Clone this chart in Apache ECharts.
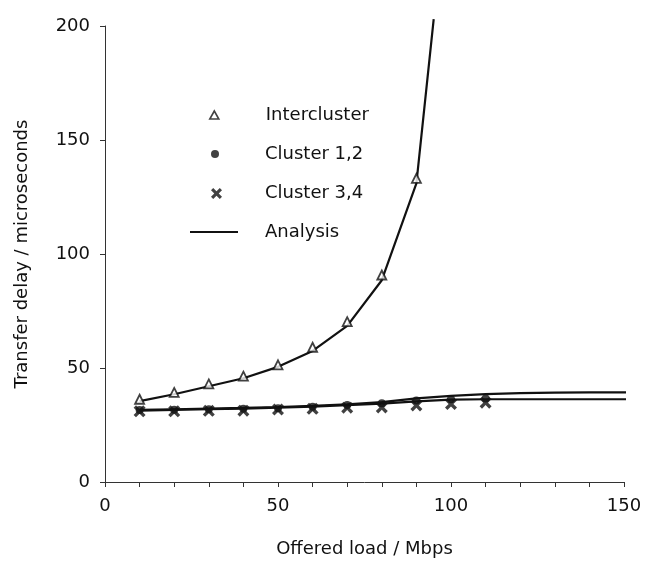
<!DOCTYPE html>
<html>
<head>
<meta charset="utf-8">
<script src="https://cdn.jsdelivr.net/npm/echarts@6/dist/echarts.min.js"></script>
<style>
  html, body { margin: 0; padding: 0; background: #fff; }
  #chart { width: 651px; height: 563px; }
</style>
</head>
<body>
<div id="chart"></div>
<script>
// Offered load (Mbps) at which the simulations were run
const loads = [10, 20, 30, 40, 50, 60, 70, 80, 90, 100, 110];

// Simulated transfer delay (microseconds)
const intercluster = [36.3, 39.3, 43.0, 46.4, 51.4, 59.1, 70.3, 90.8, 133.2];
const cluster12 = [31.6, 31.7, 31.9, 32.1, 32.4, 33.0, 33.8, 34.5, 35.8, 36.3, 36.6];
const cluster34 = [31.0, 31.0, 31.2, 31.3, 31.8, 32.1, 32.6, 32.7, 33.6, 34.2, 34.8];

// Analytical model curves
const analysisInterX = [10, 20, 30, 40, 50, 60, 70, 80, 90, 95];
const analysisInterY = [35.5, 38.5, 42.0, 45.5, 50.5, 57.5, 68.5, 88.5, 131.0, 203.0];
const analysisClusterX = [10, 20, 30, 40, 50, 60, 70, 80, 90, 100, 110, 120, 130, 140, 153];
const analysisUpperY = [31.6, 31.9, 32.2, 32.5, 32.9, 33.4, 34.1, 35.0, 36.7, 37.8, 38.5, 39.0, 39.2, 39.3, 39.3];
const analysisLowerY = [31.3, 31.6, 31.9, 32.2, 32.6, 33.1, 33.7, 34.4, 35.4, 36.1, 36.3, 36.3, 36.3, 36.3, 36.3];

// Axis ticks
const xTickLabels = [0, 50, 100, 150];
const yTicks = [0, 50, 100, 150, 200];

const FONT = 'DejaVu Sans';
const INK = '#111';
const crossPath = 'path://M0,2 L2,0 L5,3 L8,0 L10,2 L7,5 L10,8 L8,10 L5,7 L2,10 L0,8 L3,5 Z';

const pairs = (xs, ys) => xs.map((x, i) => [x, ys[i]]);

const chart = echarts.init(document.getElementById('chart'), null, { renderer: 'canvas' });

// One legend component per row so each key can have its own icon size;
// the text padding lines all the labels up in one column
function legendRow(name, icon, opts) {
  return {
    data: [{ name: name, icon: icon }],
    orient: 'vertical',
    left: opts.left,
    top: opts.top,
    padding: 0,
    itemWidth: opts.w,
    itemHeight: opts.h,
    itemGap: 0,
    selectedMode: false,
    itemStyle: opts.itemStyle,
    textStyle: { fontFamily: FONT, fontSize: 18, color: INK, padding: [0, 0, 0, opts.pad] }
  };
}

chart.setOption({
  animation: false,
  backgroundColor: '#fff',
  grid: { left: 105, right: 27, top: 26, bottom: 81, containLabel: false },
  legend: [
    legendRow('Intercluster', 'triangle', { left: 209, top: 106, w: 9, h: 8, pad: 42,
      itemStyle: { color: '#fff', borderColor: '#111', borderWidth: 1.6 } }),
    legendRow('Cluster 1,2', 'circle', { left: 211, top: 145, w: 8, h: 8, pad: 41,
      itemStyle: { color: '#111' } }),
    legendRow('Cluster 3,4', crossPath, { left: 211, top: 184.5, w: 11, h: 11, pad: 38,
      itemStyle: { color: '#111' } }),
    legendRow('Analysis', 'rect', { left: 190, top: 223, w: 48, h: 2, pad: 22,
      itemStyle: { color: '#111' } })
  ],
  xAxis: {
    type: 'value',
    min: 0,
    max: 150,
    interval: 10,
    name: 'Offered load / Mbps',
    nameLocation: 'middle',
    nameGap: 58,
    nameTextStyle: { fontFamily: FONT, fontSize: 18, color: INK },
    axisLine: { lineStyle: { color: '#333', width: 1 } },
    axisTick: { show: true, length: 5, lineStyle: { color: '#333' } },
    axisLabel: {
      margin: 15,
      fontFamily: FONT,
      fontSize: 18,
      color: INK,
      formatter: v => (xTickLabels.includes(v) ? String(v) : '')
    },
    splitLine: { show: false }
  },
  yAxis: {
    type: 'value',
    min: yTicks[0],
    max: yTicks[yTicks.length - 1],
    interval: 50,
    name: 'Transfer delay / microseconds',
    nameLocation: 'middle',
    nameGap: 74,
    nameTextStyle: { fontFamily: FONT, fontSize: 18, color: INK },
    axisLine: { show: true, lineStyle: { color: '#333', width: 1 } },
    axisTick: { show: true, length: 5, lineStyle: { color: '#333' } },
    axisLabel: { margin: 15, fontFamily: FONT, fontSize: 18, color: INK },
    splitLine: { show: false }
  },
  series: [
    {
      name: 'Analysis',
      type: 'line',
      data: pairs(analysisInterX, analysisInterY),
      symbol: 'none',
      clip: false,
      lineStyle: { color: '#111', width: 2.2 },
      itemStyle: { color: '#111' },
      z: 2
    },
    {
      name: 'Analysis',
      type: 'line',
      data: pairs(analysisClusterX, analysisUpperY),
      symbol: 'none',
      clip: false,
      lineStyle: { color: '#111', width: 2.2 },
      itemStyle: { color: '#111' },
      z: 2
    },
    {
      name: 'Analysis',
      type: 'line',
      data: pairs(analysisClusterX, analysisLowerY),
      symbol: 'none',
      clip: false,
      lineStyle: { color: '#111', width: 2.2 },
      itemStyle: { color: '#111' },
      z: 2
    },
    {
      name: 'Intercluster',
      type: 'scatter',
      data: pairs(loads.slice(0, intercluster.length), intercluster),
      symbol: 'triangle',
      symbolSize: 9,
      itemStyle: { color: '#fff', borderColor: '#111', borderWidth: 1.8 },
      z: 4
    },
    {
      name: 'Cluster 1,2',
      type: 'scatter',
      data: pairs(loads, cluster12),
      symbol: 'circle',
      symbolSize: 8,
      itemStyle: { color: '#111' },
      z: 3
    },
    {
      name: 'Cluster 3,4',
      type: 'scatter',
      data: pairs(loads, cluster34),
      symbol: crossPath,
      symbolSize: 12,
      itemStyle: { color: '#111' },
      z: 3
    }
  ]
});
</script>
</body>
</html>
